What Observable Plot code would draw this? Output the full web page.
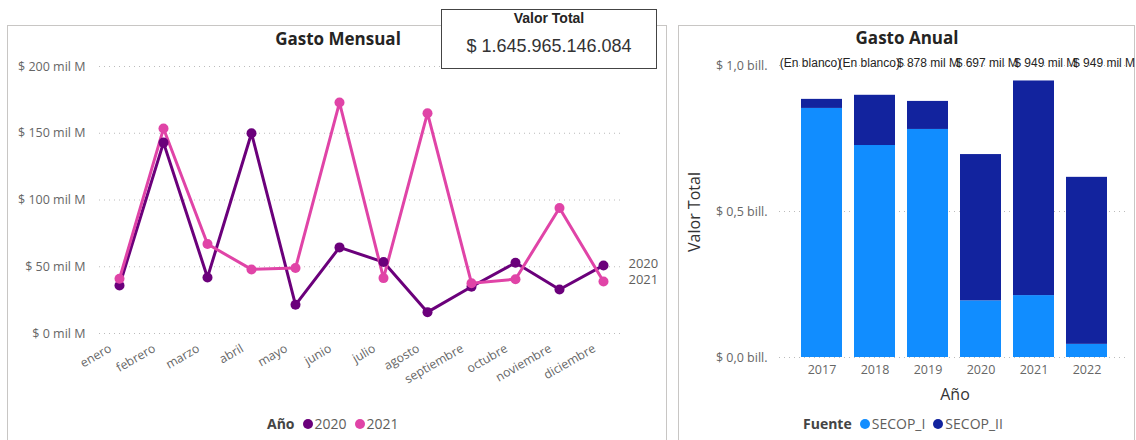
<!DOCTYPE html>
<html><head><meta charset="utf-8">
<script src="https://cdn.jsdelivr.net/npm/d3@7"></script>
<script src="https://cdn.jsdelivr.net/npm/@observablehq/plot@0.6"></script>
<style>
body{margin:0;background:#fff;}
#root{position:relative;width:1136px;height:440px;overflow:hidden;font-family:"Open Sans",sans-serif;}
.panel{position:absolute;border:1px solid #c8c6c4;box-sizing:border-box;background:#fff;}
.abs{position:absolute;white-space:nowrap;}
.title{font-weight:700;font-size:17px;color:#252423;transform:translateX(-50%);}
.legend{font-size:14px;color:#605E5C;display:flex;align-items:center;}
.legend b{color:#444;margin-right:8px;}
.legend .dot{display:inline-block;width:10px;height:10px;border-radius:50%;margin-right:2px;}
.legend .item{margin-right:8px;display:flex;align-items:center;}
#kpi{position:absolute;left:441px;top:9px;width:216px;height:60px;border:1.5px solid #444;box-sizing:border-box;background:#fff;font-family:"Liberation Sans",Arial,sans-serif;text-align:center;z-index:5;}
#kpi .h{font-weight:700;font-size:14px;color:#252423;margin-top:0px;line-height:16px;}
#kpi .v{font-size:18px;color:#333;margin-top:10px;line-height:20px;}
svg{position:absolute;}
</style></head><body>
<div id="root">
  <div class="panel" style="left:7px;top:25px;width:660px;height:430px;"></div>
  <div class="panel" style="left:678px;top:25px;width:457px;height:430px;"></div>
  <div class="abs title" style="left:338px;top:27px;">Gasto Mensual</div>
  <div class="abs title" style="left:907px;top:26px;">Gasto Anual</div>
  <div id="kpi"><div class="h">Valor Total</div><div class="v" id="kpiv"></div></div>
  <div class="abs" style="left:694px;top:212px;transform:translate(-50%,-50%) rotate(-90deg);font-size:16px;color:#333;">Valor Total</div>
  <div class="abs" style="left:955px;top:383px;transform:translateX(-50%);font-size:16px;color:#333;">Año</div>
  <div class="abs legend" id="leg1" style="left:267px;top:414px;"></div>
  <div class="abs legend" id="leg2" style="left:803px;top:414px;"></div>
</div>
<script>
// ---- data ----
const months = ["enero","febrero","marzo","abril","mayo","junio","julio","agosto","septiembre","octubre","noviembre","diciembre"];
const seriesYears = ["2020","2021"];
const gasto2020 = [36, 143, 42, 150, 21.5, 64.5, 53.5, 16, 35, 53, 33, 51];   // mil M
const gasto2021 = [41, 153.5, 67, 48, 49, 173, 41.5, 165, 37.7, 40.7, 94, 39]; // mil M
const monthTicks = [0, 50, 100, 150, 200];

const years = ["2017","2018","2019","2020","2021","2022"];
const fuentes = ["SECOP_I","SECOP_II"];
const secopI  = [0.853, 0.726, 0.781, 0.194, 0.212, 0.045]; // bill.
const secopII = [0.031, 0.172, 0.096, 0.501, 0.735, 0.572]; // bill.
const yearTicks = [0, 0.5, 1.0];
const barLabels = ["(En blanco)","(En blanco)","$ 878 mil M","$ 697 mil M","$ 949 mil M","$ 949 mil M"];
const kpiValue = "$ 1.645.965.146.084";

const yearColors = ["#6B007B","#E044A7"];
const fuenteColors = ["#118DFF","#12239E"];

// ---- build tables ----
const monthly = [];
[gasto2020, gasto2021].forEach((arr, s) => arr.forEach((v, i) => monthly.push({year: seriesYears[s], month: months[i], value: v})));
const annual = [];
years.forEach((y, i) => { annual.push({year: y, fuente: fuentes[0], value: secopI[i]}); annual.push({year: y, fuente: fuentes[1], value: secopII[i]}); });

const root = document.getElementById("root");
document.getElementById("kpiv").textContent = kpiValue;

const baseStyle = {fontFamily: "Open Sans", fontSize: "12.5px", color: "#666", background: "transparent", overflow: "visible"};

// ---- left chart ----
const left = Plot.plot({
  width: 680, height: 440,
  marginTop: 66, marginBottom: 107, marginLeft: 99, marginRight: 58,
  style: baseStyle,
  x: {type: "point", domain: months, range: [115, 606], padding: 0, label: null},
  y: {domain: [0, 200], ticks: monthTicks, tickFormat: d => `$ ${d} mil M`, label: null, tickSize: 0, tickPadding: 14},
  color: {domain: seriesYears, range: yearColors},
  marks: [
    Plot.axisX({tickRotate: -30, tickSize: 0, tickPadding: 14, dx: -9, fontSize: 12.3, fill: "#666", label: null}),
    Plot.ruleY(monthTicks, {stroke: "#bbb", strokeDasharray: "1,4"}),
    Plot.line(monthly, {x: "month", y: "value", z: "year", stroke: "year", strokeWidth: 3}),
    Plot.dot(monthly, {x: "month", y: "value", fill: "year", r: 5}),
    Plot.text(monthly, Plot.selectLast({x: "month", y: "value", z: "year", text: "year", dx: 25, dy: -2, textAnchor: "start", fill: "#605E5C", fontSize: 13}))
  ]
});
left.style.left = "0px"; left.style.top = "0px";
root.appendChild(left);

// ---- right chart ----
const right = Plot.plot({
  width: 466, height: 440,
  marginTop: 65, marginBottom: 83, marginLeft: 109, marginRight: 9,
  style: baseStyle,
  x: {type: "band", domain: years, range: [130.5, 437.5], paddingInner: 0.23, paddingOuter: 0, label: null, tickSize: 0, tickPadding: 8},
  y: {domain: [0, 1.0], ticks: yearTicks, tickFormat: d => `$ ${d.toFixed(1).replace(".", ",")} bill.`, label: null, tickSize: 0, tickPadding: 12},
  color: {domain: fuentes, range: fuenteColors},
  marks: [
    Plot.ruleY(yearTicks, {stroke: "#bbb", strokeDasharray: "1,4"}),
    Plot.barY(annual, {x: "year", y: "value", fill: "fuente"}),
    ...years.map((yr, i) => Plot.text([{year: yr, label: barLabels[i]}], {
      x: "year", y: () => 1.0, text: "label", dy: -2, dx: 2.8 + (i - 2.5) * 5.7,
      fill: "#252423", fontSize: 12, fontFamily: "Liberation Sans"
    }))
  ]
});
right.style.left = "670px"; right.style.top = "0px";
root.appendChild(right);

// ---- legends ----
function legend(el, title, names, colors) {
  el.innerHTML = `<b>${title}</b>` + names.map((n, i) => `<span class="item"><span class="dot" style="background:${colors[i]}"></span>${n}</span>`).join("");
}
legend(document.getElementById("leg1"), "Año", seriesYears, yearColors);
legend(document.getElementById("leg2"), "Fuente", fuentes, fuenteColors);
</script>
</body></html>
